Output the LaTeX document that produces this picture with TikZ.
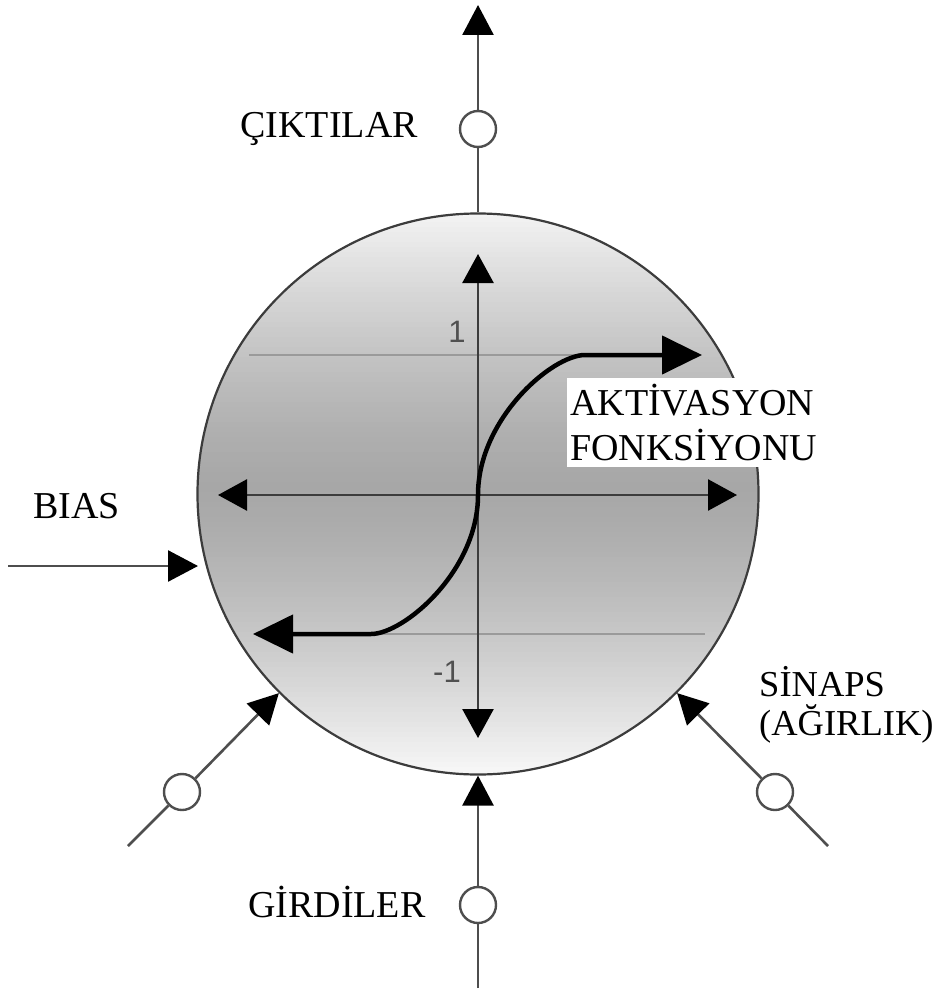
\documentclass[tikz,border=0pt]{standalone}
\usepackage{fontspec}
\setmainfont{Liberation Serif}
\setsansfont{Liberation Sans}
\usetikzlibrary{arrows.meta}
\definecolor{rim}{HTML}{3C3C3C}
\definecolor{conn}{HTML}{4E4E4E}
\definecolor{guide}{HTML}{9A9A9A}
\tikzset{
  conline/.style={draw=conn, line width=2.6pt},
  conarrow/.style={conline, -{Triangle[length=30pt,width=31pt,color=black]}},
  smallc/.style={circle, draw=conn, line width=2.4pt, fill=white, minimum size=36pt, inner sep=0pt},
  axisline/.style={draw=rim, line width=2.6pt, {Triangle[length=29pt,width=31pt,color=black]}-{Triangle[length=29pt,width=31pt,color=black]}},
  sigline/.style={draw=black, line width=4.5pt, {Triangle[length=40pt,width=38pt]}-{Triangle[length=40pt,width=38pt]}},
  guideline/.style={draw=guide, line width=1.4pt},
  lbl/.style={font=\fontsize{38}{45}\selectfont, inner sep=0pt},
  numlbl/.style={font=\sffamily\fontsize{31}{31}\selectfont, text=rim!90, inner sep=0pt}
}
\begin{document}
\begin{tikzpicture}[x=1pt, y=-1pt]
\useasboundingbox (0,0) rectangle (939,992);
% neuron body shading (horizontal strips clipped to the disc)
\begin{scope}
  \clip (478,494) circle[radius=280];
  \foreach \i in {0,...,113} {
    \pgfmathsetmacro\yy{212+5*\i}
    \pgfmathsetmacro\tt{min(abs(\yy+2.5-488)/282,1)}
    \pgfmathsetmacro\gv{0.655+0.31*pow(\tt,1.35)}
    \definecolor{stripc}{gray}{\gv}
    \fill[stripc] (190,\yy) rectangle (770,\yy+5.6);
  }
\end{scope}
\node[circle, minimum size=561pt, inner sep=0pt, draw=rim, line width=2.2pt] (neuron) at (478,494) {};
% guide lines
\coordinate (g1a) at (249,355); \coordinate (g1b) at (620,355);
\coordinate (g2a) at (371,634); \coordinate (g2b) at (705,634);
\draw[guideline] (g1a) -- (g1b);
\draw[guideline] (g2a) -- (g2b);
% axes
\coordinate (axl) at (218,495); \coordinate (axr) at (737,495);
\coordinate (axt) at (478,254); \coordinate (axb) at (478,738);
\draw[axisline] (axl) -- (axr);
\draw[axisline] (axt) -- (axb);
% sigmoid
\coordinate (sl) at (253,634); \coordinate (sa) at (371,634);
\coordinate (sm) at (478,495);
\coordinate (sb) at (585,355); \coordinate (sr) at (702,355);
\draw[sigline] (sl) -- (sa) .. controls (404,634) and (478,571) .. (sm)
  .. controls (478,419) and (552,355) .. (sb) -- (sr);
% numbers
\node[numlbl] (one) at (457,332) {1};
\node[numlbl] (mone) at (447,672) {-1};
% activation label
\node[lbl, fill=white, anchor=north west, align=left, inner xsep=3pt, inner ysep=6pt,
  text width=241pt] (akt) at (567,378) {AKTİVASYON\\FONKSİYONU};
% output
\node[smallc] (out) at (478,129) {};
\coordinate (outtip) at (478,5);
\draw[conline] (neuron.north) -- (out);
\draw[conarrow] (out) -- (outtip);
\node[lbl, anchor=base east] (cikti) at (418,138) {ÇIKTILAR};
% bias
\coordinate (biass) at (8,566);
\coordinate (biast) at (198,566);
\draw[conarrow] (biass) -- (biast);
\node[lbl, anchor=base west] (bias) at (33,518) {BIAS};
% lower left input
\coordinate (in1s) at (128,846);
\node[smallc] (in1) at (182,792) {};
\draw[conline] (in1s) -- (in1);
\draw[conarrow] (in1) -- (neuron.225);
% lower right input
\coordinate (in3s) at (828,846);
\node[smallc] (in3) at (775,792) {};
\draw[conline] (in3s) -- (in3);
\draw[conarrow] (in3) -- (neuron.315);
% bottom input
\coordinate (in2s) at (478,988);
\node[smallc] (in2) at (478,905) {};
\draw[conline] (in2s) -- (in2);
\draw[conarrow] (in2) -- (neuron.south);
\node[lbl, anchor=base west] (gir) at (248,917) {GİRDİLER};
% synapse label
\node[lbl, anchor=north west, align=left, font=\fontsize{36.5}{39}\selectfont] (sin) at (759,666) {SİNAPS\\(AĞIRLIK)};
\end{tikzpicture}
\end{document}
